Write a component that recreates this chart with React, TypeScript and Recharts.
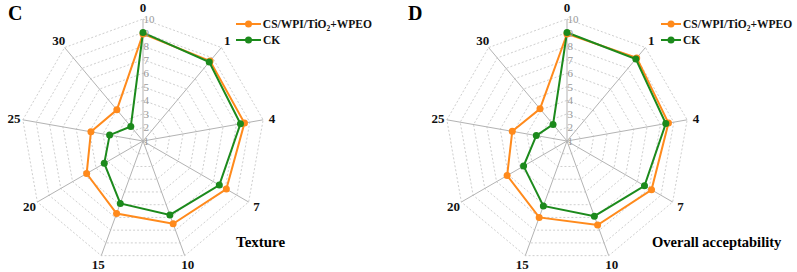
import React from 'react';
import {
  RadarChart,
  Radar,
  PolarGrid,
  PolarAngleAxis,
  PolarRadiusAxis,
  Legend,
} from 'recharts';

const days = ['0', '1', '4', '7', '10', '15', '20', '25', '30'];
const radiusTicks = [1, 2, 3, 4, 5, 6, 7, 8, 9, 10];

const textureCoated = [8.9, 8.7, 8.6, 8.1, 7.5, 6.7, 5.8, 4.9, 4.0];
const textureCK = [9.0, 8.6, 8.3, 7.5, 6.8, 5.9, 4.3, 3.5, 2.4];
const overallCoated = [8.9, 9.0, 8.6, 8.2, 7.6, 7.0, 6.1, 5.1, 4.1];
const overallCK = [9.0, 8.9, 8.4, 7.6, 6.9, 6.1, 4.7, 3.3, 2.6];

const ORANGE = '#FF8A1C';
const GREEN = '#1C8A1C';
const FONT = 'Liberation Serif, DejaVu Serif, serif';

const W = 400;
const H = 272;
const CY = 141;
const R = 122;

const buildRows = (coated: number[], ck: number[]) =>
  days.map((d, i) => ({ day: d, coated: coated[i], ck: ck[i] }));

const LegendBox = ({ lineW }: { lineW: number }) => (
  <div style={{ fontFamily: FONT, fontWeight: 700, fontSize: 11.5, color: '#111' }}>
    {[
      { color: ORANGE, label: <>CS/WPI/TiO<sub style={{ fontSize: 7.5, lineHeight: 0 }}>2</sub>+WPEO</> },
      { color: GREEN, label: <>CK</> },
    ].map((it, i) => (
      <div key={i} style={{ display: 'flex', alignItems: 'center', height: 16, lineHeight: '16px', whiteSpace: 'nowrap' }}>
        <svg width={lineW} height={10} style={{ marginRight: 2 }}>
          <line x1={0} y1={5} x2={lineW} y2={5} stroke={it.color} strokeWidth={2} />
          <circle cx={lineW / 2} cy={5} r={3.5} fill={it.color} />
        </svg>
        <span>{it.label}</span>
      </div>
    ))}
  </div>
);

const makeDot = (color: string) => (props: any) => {
  const { cx, cy, index } = props;
  return <circle key={index} cx={cx} cy={cy} r={3.5} fill={color} stroke="none" />;
};

type PanelProps = {
  letter: string;
  caption: string;
  captionLeft: number;
  captionSize: number;
  legendLeft: number;
  legendLine: number;
  coated: number[];
  ck: number[];
  cx: number;
};

const Panel = ({ letter, caption, captionLeft, captionSize, legendLeft, legendLine, coated, ck, cx }: PanelProps) => {
  const rows = buildRows(coated, ck);

  const angleTick = (props: any) => {
    const { x, y, payload } = props;
    const dx = x - cx;
    const dy = y - CY;
    const len = Math.sqrt(dx * dx + dy * dy) || 1;
    const lx = cx + (dx / len) * 131;
    let ly = CY + (dy / len) * 131;
    if (Math.abs(dx) < 1 && dy < 0) ly -= 3;
    return (
      <text x={lx} y={ly} textAnchor="middle" dominantBaseline="central"
        fontFamily={FONT} fontWeight={700} fontSize={13} fill="#111">
        {payload.value}
      </text>
    );
  };

  const radiusTick = (props: any) => {
    const { x, y, payload } = props;
    return (
      <text x={x + 0.5} y={y} textAnchor="start" dominantBaseline="central"
        fontFamily={FONT} fontSize={11} fill="#9a9a9a">
        {payload.value}
      </text>
    );
  };

  return (
    <div style={{ position: 'relative', width: W, height: H }}>
      <RadarChart width={W} height={H} data={rows} cx={cx} cy={CY} outerRadius={R}
        margin={{ top: 0, right: 0, bottom: 0, left: 0 }}>
        <PolarGrid gridType="polygon" radialLines={false} stroke="#cfcfcf" strokeDasharray="2 2" />
        <PolarGrid gridType="polygon" polarRadius={[]} stroke="#b3b3b3" />
        <PolarAngleAxis dataKey="day" tick={angleTick} tickLine={false} axisLine={false} tickSize={9} />
        <PolarRadiusAxis angle={90} domain={[1, 10]} ticks={radiusTicks as any} tickCount={10}
          axisLine={false} tick={radiusTick} />
        <Radar name="CS/WPI/TiO2+WPEO" dataKey="coated" stroke={ORANGE} strokeWidth={2}
          fill="none" fillOpacity={0} dot={makeDot(ORANGE)} isAnimationActive={false} />
        <Radar name="CK" dataKey="ck" stroke={GREEN} strokeWidth={2}
          fill="none" fillOpacity={0} dot={makeDot(GREEN)} isAnimationActive={false} />
        <Legend content={<LegendBox lineW={legendLine} />} wrapperStyle={{ top: 16, left: legendLeft, width: 136 }} />
      </RadarChart>
      <div style={{ position: 'absolute', left: 8, top: 2, fontFamily: FONT, fontWeight: 700, fontSize: 20 }}>
        {letter}
      </div>
      <div style={{ position: 'absolute', left: captionLeft, top: 234, fontFamily: FONT, fontWeight: 700, fontSize: captionSize }}>
        {caption}
      </div>
    </div>
  );
};

export default function App() {
  return (
    <div style={{ position: 'absolute', left: 0, top: 0, width: 797, height: 272, background: '#fff', overflow: 'hidden' }}>
      <div style={{ position: 'absolute', left: 0, top: 0 }}>
        <Panel letter="C" caption="Texture" captionLeft={236} captionSize={15} legendLeft={236} legendLine={25}
          coated={textureCoated} ck={textureCK} cx={143} />
      </div>
      <div style={{ position: 'absolute', left: 400, top: 0 }}>
        <Panel letter="D" caption="Overall acceptability" captionLeft={252} captionSize={14.5} legendLeft={261} legendLine={20}
          coated={overallCoated} ck={overallCK} cx={167} />
      </div>
    </div>
  );
}
